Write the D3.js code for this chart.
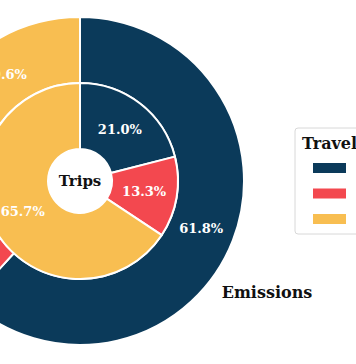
<html>
<head>
<script src="https://cdn.jsdelivr.net/npm/d3@7"></script>
<style>
  body { margin: 0; background: #fff; }
  text { font-family: "DejaVu Serif", serif; font-weight: bold; }
</style>
</head>
<body>
<svg id="chart" width="356" height="364"></svg>
<script>
    // travel modes (legend labels are cut off in the reference)
    let modes = ["Mode A", "Mode B", "Mode C"]
    let colors = ["#0b3a5a", "#f3484f", "#f8be51"]
    let emissions = [61.8, 18.6, 19.6]
    let trips = [21.0, 13.3, 65.7]

    let svg = d3.select("#chart")
    let cx = 80, cy = 181
    let g = svg.append("g").attr("transform", `translate(${cx},${cy})`)

    let color = d3.scaleOrdinal().domain(modes).range(colors)
    let pie = d3.pie().sort(null).value(d => d.v)

    function ring(values, r0, r1, labelR) {
        let data = pie(values.map((v, i) => ({ v: v, mode: modes[i] })))
        let arc = d3.arc().innerRadius(r0).outerRadius(r1)
        let label = d3.arc().innerRadius(labelR).outerRadius(labelR)
        let grp = g.append("g")
        grp.selectAll("path").data(data).enter().append("path")
            .attr("d", arc)
            .attr("fill", d => color(d.data.mode))
            .attr("stroke", "white")
            .attr("stroke-width", 2)
        grp.selectAll("text").data(data).enter().append("text")
            .attr("transform", d => `translate(${label.centroid(d)})`)
            .attr("text-anchor", "middle")
            .attr("dy", "0.35em")
            .attr("fill", "white")
            .style("font-size", "13px")
            .text(d => d.data.v.toFixed(1) + "%")
    }

    ring(emissions, 98, 164, 130)
    ring(trips, 32, 98, 65)

    g.append("text").attr("text-anchor", "middle").attr("dy", "0.35em")
        .style("font-size", "15px").attr("fill", "#111").text("Trips")

    svg.append("text").attr("x", 267).attr("y", 292).attr("text-anchor", "middle").attr("dy", "0.35em")
        .style("font-size", "16px").attr("fill", "#111").text("Emissions")

    // legend
    let legend = svg.append("g").attr("transform", "translate(295,128)")
    legend.append("rect").attr("width", 80).attr("height", 106).attr("rx", 3)
        .attr("fill", "white").attr("stroke", "#d8d8d8")
    legend.append("text").attr("x", 7).attr("y", 21).style("font-size", "16px")
        .attr("fill", "#111").text("Travel Mode")
    let y = d3.scalePoint().domain(modes).range([35, 86])
    legend.selectAll(".key").data(modes).enter().append("rect")
        .attr("x", 18).attr("y", d => y(d)).attr("width", 33).attr("height", 10)
        .attr("fill", d => color(d))
</script>
</body>
</html>
